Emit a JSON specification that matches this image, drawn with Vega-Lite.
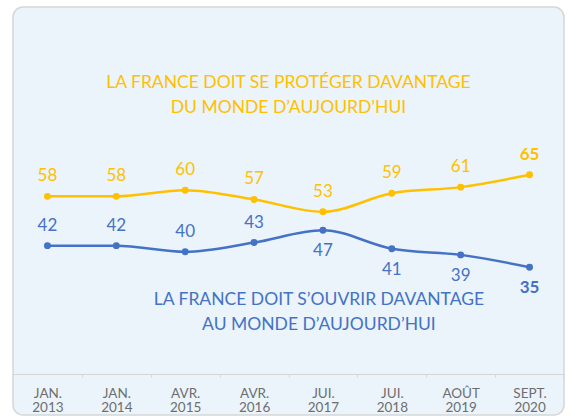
{
  "$schema": "https://vega.github.io/schema/vega-lite/v6.json",
  "width": 551,
  "height": 408,
  "autosize": {"type": "none"},
  "padding": {"left": 13, "top": 7, "right": 22, "bottom": 1},
  "background": "#ffffff",
  "config": {
    "view": {"fill": "#EBF4FB", "stroke": "#D6D6D6", "strokeWidth": 1.5, "cornerRadius": 10},
    "font": "Lato",
    "text": {"font": "Lato"}
  },
  "datasets": {
    "series": [
      {"date": "Jan. 2013", "serie": "proteger", "value": 58},
      {"date": "Jan. 2014", "serie": "proteger", "value": 58},
      {"date": "Avr. 2015", "serie": "proteger", "value": 60},
      {"date": "Avr. 2016", "serie": "proteger", "value": 57},
      {"date": "Jui. 2017", "serie": "proteger", "value": 53},
      {"date": "Jui. 2018", "serie": "proteger", "value": 59},
      {"date": "Août 2019", "serie": "proteger", "value": 61},
      {"date": "Sept. 2020", "serie": "proteger", "value": 65},
      {"date": "Jan. 2013", "serie": "ouvrir", "value": 42},
      {"date": "Jan. 2014", "serie": "ouvrir", "value": 42},
      {"date": "Avr. 2015", "serie": "ouvrir", "value": 40},
      {"date": "Avr. 2016", "serie": "ouvrir", "value": 43},
      {"date": "Jui. 2017", "serie": "ouvrir", "value": 47},
      {"date": "Jui. 2018", "serie": "ouvrir", "value": 41},
      {"date": "Août 2019", "serie": "ouvrir", "value": 39},
      {"date": "Sept. 2020", "serie": "ouvrir", "value": 35}
    ],
    "notes": [
      {"date": "Avr. 2016", "serie": "proteger", "value": 94.9, "text": ["LA FRANCE DOIT SE PROTÉGER DAVANTAGE", "DU MONDE D’AUJOURD’HUI"]},
      {"date": "Jui. 2017", "serie": "ouvrir", "value": 24.3, "text": ["LA FRANCE DOIT S’OUVRIR DAVANTAGE", "AU MONDE D’AUJOURD’HUI"]}
    ]
  },
  "encoding": {
    "x": {
      "field": "date",
      "type": "ordinal",
      "bandPosition": 0.5,
      "scale": {
        "type": "band",
        "paddingInner": 0,
        "paddingOuter": 0,
        "domain": ["Jan. 2013", "Jan. 2014", "Avr. 2015", "Avr. 2016", "Jui. 2017", "Jui. 2018", "Août 2019", "Sept. 2020"]
      },
      "axis": {
        "title": null,
        "offset": -41,
        "labelAngle": 0,
        "labelExpr": "split(upper(datum.label), ' ')",
        "labelFont": "Lato",
        "labelFontSize": 13.5,
        "labelColor": "#6E6E6E",
        "labelLineHeight": 14.5,
        "labelPadding": 9,
        "tickBand": "extent",
        "tickSize": 3,
        "tickColor": "#D6D6D6",
        "domainColor": "#D6D6D6",
        "domainWidth": 1
      }
    },
    "y": {
      "field": "value",
      "type": "quantitative",
      "scale": {"domain": [-13, 119.5], "nice": false, "zero": false},
      "axis": null
    },
    "color": {
      "field": "serie",
      "type": "nominal",
      "scale": {"domain": ["proteger", "ouvrir"], "range": ["#FFC000", "#4472C4"]},
      "legend": null
    }
  },
  "layer": [
    {
      "data": {"name": "series"},
      "mark": {"type": "line", "interpolate": "monotone", "strokeWidth": 2.5}
    },
    {
      "data": {"name": "series"},
      "mark": {"type": "circle", "size": 48, "opacity": 1}
    },
    {
      "data": {"name": "series"},
      "transform": [
        {"filter": "datum.date !== 'Sept. 2020' && (datum.serie === 'proteger' || indexof(['Jan. 2013', 'Jan. 2014', 'Avr. 2015', 'Avr. 2016'], datum.date) >= 0)"}
      ],
      "mark": {"type": "text", "dy": -20, "fontSize": 17, "baseline": "middle", "align": "center"},
      "encoding": {
        "text": {"field": "value", "type": "quantitative"}
      }
    },
    {
      "data": {"name": "series"},
      "transform": [
        {"filter": "datum.date !== 'Sept. 2020' && datum.serie === 'ouvrir' && indexof(['Jan. 2013', 'Jan. 2014', 'Avr. 2015', 'Avr. 2016'], datum.date) < 0"}
      ],
      "mark": {"type": "text", "dy": 21, "fontSize": 17, "baseline": "middle", "align": "center"},
      "encoding": {
        "text": {"field": "value", "type": "quantitative"}
      }
    },
    {
      "data": {"name": "series"},
      "transform": [
        {"filter": "datum.date === 'Sept. 2020' && datum.serie === 'proteger'"}
      ],
      "mark": {"type": "text", "dy": -20, "fontSize": 17, "fontWeight": "bold", "baseline": "middle", "align": "center"},
      "encoding": {
        "text": {"field": "value", "type": "quantitative"}
      }
    },
    {
      "data": {"name": "series"},
      "transform": [
        {"filter": "datum.date === 'Sept. 2020' && datum.serie === 'ouvrir'"}
      ],
      "mark": {"type": "text", "dy": 21, "fontSize": 17, "fontWeight": "bold", "baseline": "middle", "align": "center"},
      "encoding": {
        "text": {"field": "value", "type": "quantitative"}
      }
    },
    {
      "data": {"name": "notes"},
      "transform": [{"filter": "datum.serie === 'proteger'"}],
      "mark": {"type": "text", "fontSize": 17.5, "lineHeight": 25, "baseline": "middle", "align": "center"},
      "encoding": {
        "x": {"field": "date", "type": "ordinal", "bandPosition": 1},
        "text": {"field": "text"}
      }
    },
    {
      "data": {"name": "notes"},
      "transform": [{"filter": "datum.serie === 'ouvrir'"}],
      "mark": {"type": "text", "fontSize": 17.5, "lineHeight": 25, "baseline": "middle", "align": "center", "dx": -4},
      "encoding": {
        "x": {"field": "date", "type": "ordinal", "bandPosition": 0.5},
        "text": {"field": "text"}
      }
    }
  ]
}
